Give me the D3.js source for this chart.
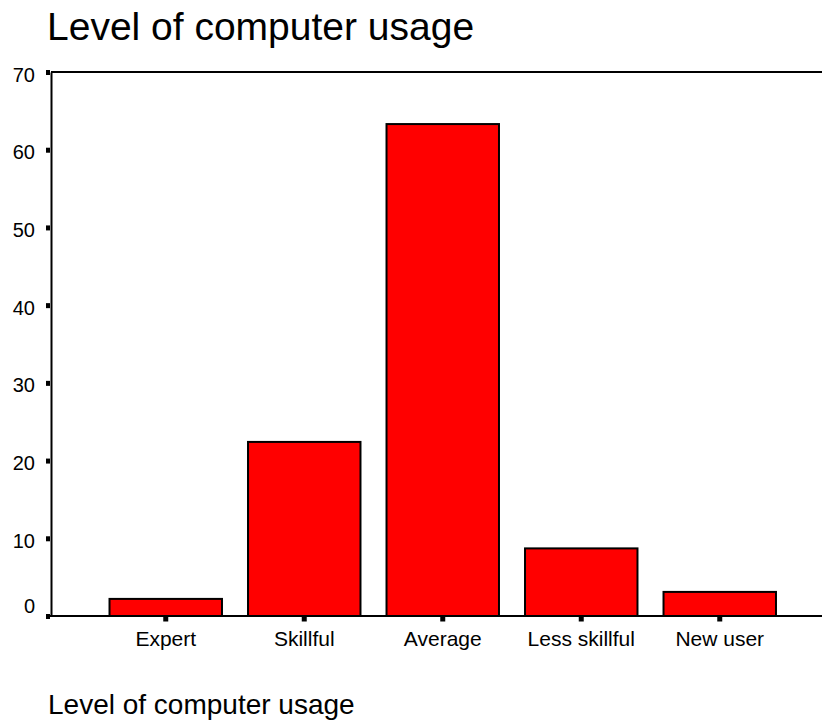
<!DOCTYPE html>
<html>
<head>
<meta charset="utf-8">
<script src="https://cdn.jsdelivr.net/npm/d3@7"></script>
<style>
  html, body { margin: 0; padding: 0; background: #fff; }
  svg { display: block; font-family: "Liberation Sans", Arial, sans-serif; }
</style>
</head>
<body>
<svg id="chart" width="822" height="720"></svg>
<script>
const categories = ["Expert", "Skillful", "Average", "Less skillful", "New user"];
const percents = [2.2, 22.4, 63.3, 8.7, 3.1];
const yTicks = [0, 10, 20, 30, 40, 50, 60, 70];
const title = "Level of computer usage";
const xTitle = "Level of computer usage";

const W = 822, H = 720;
const margin = { top: 72, right: 0, bottom: 104, left: 51 };
const iw = W - margin.left - margin.right;
const ih = H - margin.top - margin.bottom;

const data = categories.map((c, i) => ({ cat: c, val: percents[i] }));

const svg = d3.select("#chart");
svg.append("rect").attr("width", W).attr("height", H).attr("fill", "#fff");

svg.append("text")
  .attr("x", 47).attr("y", 39.5)
  .attr("font-size", 39).attr("fill", "#000")
  .text(title);

const g = svg.append("g").attr("transform", `translate(${margin.left},${margin.top})`);

const x = d3.scaleBand()
  .domain(categories)
  .range([45.5, 738])
  .paddingInner(0.188)
  .paddingOuter(0.094);

const y = d3.scaleLinear().domain([0, 70]).range([ih, 0]);

// top border line
g.append("line")
  .attr("x1", 0).attr("x2", iw)
  .attr("y1", y(70)).attr("y2", y(70))
  .attr("stroke", "#000").attr("stroke-width", 2);

// bars
g.selectAll("rect.bar").data(data).join("rect")
  .attr("class", "bar")
  .attr("x", d => x(d.cat))
  .attr("width", x.bandwidth())
  .attr("y", d => y(d.val))
  .attr("height", d => y(0) - y(d.val))
  .attr("fill", "#ff0000")
  .attr("stroke", "#000")
  .attr("stroke-width", 2);

// y axis
const yAxis = g.append("g")
  .call(d3.axisLeft(y).tickValues(yTicks).tickSize(0).tickSizeOuter(0).tickPadding(16).tickFormat(d3.format("d")));
yAxis.select(".domain").attr("stroke", "#000").attr("stroke-width", 2);
yAxis.selectAll(".tick text")
  .attr("font-size", 20)
  .attr("font-family", "Liberation Sans, Arial, sans-serif")
  .attr("fill", "#000")
  .attr("dy", d => d === 0 ? "-0.18em" : "0.45em");
yAxis.selectAll(".tick").append("rect")
  .attr("x", -5).attr("y", -2.5).attr("width", 4).attr("height", 5)
  .attr("fill", "#000");

// x axis
const xAxis = g.append("g")
  .attr("transform", `translate(0,${ih})`)
  .call(d3.axisBottom(x).tickSize(0).tickSizeOuter(0).tickPadding(15));
xAxis.select(".domain").remove();
g.append("line")
  .attr("x1", -4).attr("x2", iw)
  .attr("y1", ih).attr("y2", ih)
  .attr("stroke", "#000").attr("stroke-width", 2);
xAxis.selectAll(".tick text")
  .attr("font-size", 21)
  .attr("font-family", "Liberation Sans, Arial, sans-serif")
  .attr("fill", "#000")
  .attr("dy", "0.71em");
xAxis.selectAll(".tick").append("rect")
  .attr("x", -2.5).attr("y", 0).attr("width", 5).attr("height", 5.5)
  .attr("fill", "#000");

svg.append("text")
  .attr("x", 48).attr("y", 714)
  .attr("font-size", 28).attr("fill", "#000")
  .text(xTitle);
</script>
</body>
</html>
